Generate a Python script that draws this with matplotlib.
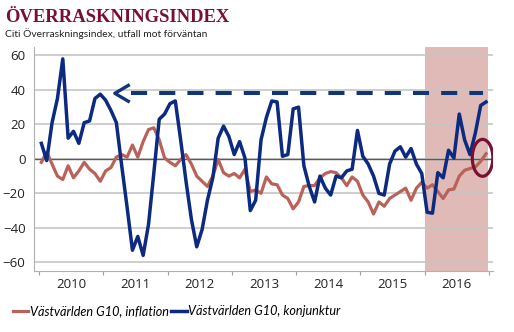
import matplotlib.pyplot as plt
import numpy as np
from matplotlib.patches import Ellipse

# Månadsdata jan 2010 - dec 2016
inflation = [-2, 4, -3, -10, -12, -4, -11, -7, -2, -6, -8.5, -13,
             -7, -5, 1, 2.5, 1, 8, 1, 10, 17, 18, 11, 0.5,
             -2, -4, -0.4, 2.5, -3, -10, -13, -16, -10, -0.4, -8, -10,
             -8.5, -11, -6, -19, -18, -20, -10.5, -14.5, -15, -21, -23, -29,
             -25, -16, -15.5, -15.5, -11, -8.5, -7.4, -8, -11, -15.5, -10.5, -13,
             -21, -25, -32, -25, -27.5, -23, -21, -19, -17, -24, -17, -13.6,
             -17, -15, -19, -23, -18, -17.5, -10, -6.6, -5.6, -4.7, -1.4, 3]
konjunktur = [9, -1, 21, 35, 58, 12, 16, 9, 21, 22, 35, 37.5,
              34, 28, 21, -4, -28, -53, -45, -56, -38, -8, 23, 26,
              32, 33.6, 11, -13, -35, -51, -41, -24, -11, 12, 19, 13,
              2.5, 10, 0.5, -30, -24, 11, 24, 33.6, 33, 1.5, 2.5, 29,
              30, -4, -16, -25, -10, -17, -21, -10, -11, -7, -6, 16.5,
              1.5, -3, -10, -20, -21, -3, 4.5, 7, 1, 6, -3, -8.5,
              -31, -31.5, -8, -11, 5, 0.5, 26, 11, 2.5, 15, 31, 33]
years = [2010, 2011, 2012, 2013, 2014, 2015, 2016]
arrow_level = 38

x = 2010 + (np.arange(len(konjunktur)) + 0.45) / 12

red = '#b9625a'
blue = '#0c2a80'
dark_red = '#7a1030'

fig = plt.figure(figsize=(5.14, 3.32), dpi=100)
ax = fig.add_axes([0.066, 0.184, 0.893, 0.675])

# skuggat område 2016
ax.axvspan(2016.0, 2016.98, color='#dfbab6', zorder=0, lw=0)
ax.set_axisbelow(True)
ax.grid(axis='y', color='#c6c6c6', lw=1.2)
ax.axhline(0, color='#5a5a5a', lw=1, zorder=1)

ax.plot(x, inflation, color=red, lw=2.3, label='Västvärlden G10, inflation', zorder=3)
ax.plot(x, konjunktur, color=blue, lw=2.5, label='Västvärlden G10, konjunktur', zorder=4)

# streckad pil
ax.plot([2011.43, 2016.905], [arrow_level, arrow_level], color='#12357a', lw=2.9,
        linestyle=(0, (4, 3)), zorder=5, solid_capstyle='butt')
ax.plot([2011.39, 2011.18, 2011.39], [arrow_level + 4.6, arrow_level, arrow_level - 4.6],
        color='#12357a', lw=2.4, zorder=5)

ax.add_patch(Ellipse((2016.90, 0.6), 0.32, 21.4, fill=False, ec=dark_red, lw=2.3, zorder=6))

ax.set_xlim(2009.922, 2017.061)
ax.set_ylim(-65, 65)
ax.set_yticks(range(-60, 61, 20))
ax.set_xticks(years + [2017])
ax.set_xticklabels([])
ax.set_xticks([y + 0.5 for y in years], minor=True)
ax.set_xticklabels([str(y) for y in years], minor=True)
ax.tick_params(axis='x', which='major', length=3, color='#a0a0a0')
ax.tick_params(axis='x', which='minor', length=0, pad=5, labelsize=9.5, labelcolor='#222222')
ax.tick_params(axis='y', length=0, pad=6, labelsize=9.5, labelcolor='#222222')
for lab in ax.get_xticklabels(minor=True) + ax.get_yticklabels():
    lab.set_family('Open Sans')

for s in ['top', 'right']:
    ax.spines[s].set_visible(False)
ax.spines['left'].set_color('#b0b0b0')
ax.spines['bottom'].set_color('#b0b0b0')

fig.text(0.01, 0.935, 'ÖVERRASKNINGSINDEX', family='Liberation Serif', weight='bold',
         fontsize=13.4, color=dark_red, va='baseline')
fig.text(0.01, 0.9, 'Citi Överraskningsindex, utfall mot förväntan', family='Lato',
         fontsize=7.4, color='#222222', va='center')

fig.legend(loc='center left', bbox_to_anchor=(0.015, 0.063), ncol=2, frameon=False,
           handlelength=1.2, handletextpad=0.15, columnspacing=0.2, borderaxespad=0,
           prop={'family': 'Lato', 'style': 'italic', 'size': 9.1})

fig.savefig('out.png', dpi=100)
